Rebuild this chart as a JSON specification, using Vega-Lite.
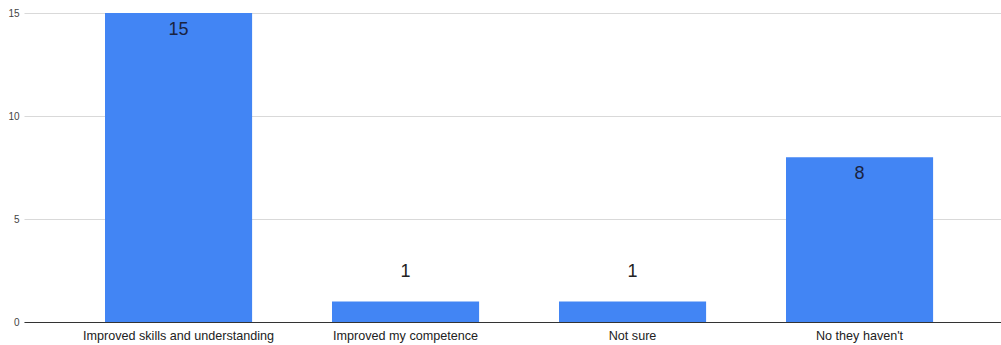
{
  "$schema": "https://vega.github.io/schema/vega-lite/v6.json",
  "autosize": {"type": "none"},
  "width": 977,
  "height": 309,
  "padding": {"left": 24, "top": 13, "right": 0, "bottom": 23},
  "background": "white",
  "config": {
    "view": {"stroke": null},
    "font": "Liberation Sans"
  },
  "data": {
    "values": [
      {"answer": "Improved skills and understanding", "count": 15},
      {"answer": "Improved my competence", "count": 1},
      {"answer": "Not sure", "count": 1},
      {"answer": "No they haven't", "count": 8}
    ]
  },
  "encoding": {
    "x": {
      "field": "answer",
      "type": "nominal",
      "sort": null,
      "scale": {"paddingInner": 0.352, "paddingOuter": 0.328, "align": 0.544},
      "axis": {
        "title": null,
        "labelAngle": 0,
        "labelFontSize": 12.6,
        "labelColor": "#222222",
        "labelPadding": 7,
        "labelLimit": 0,
        "ticks": false,
        "domainColor": "#333333",
        "domainWidth": 1,
        "grid": false
      }
    },
    "y": {
      "field": "count",
      "type": "quantitative",
      "scale": {"domain": [0, 15], "nice": false},
      "axis": {
        "title": null,
        "values": [0, 5, 10, 15],
        "labelFontSize": 10,
        "labelColor": "#444444",
        "labelPadding": 5,
        "ticks": false,
        "domain": false,
        "gridColor": "#d9d9d9",
        "gridWidth": 1
      }
    }
  },
  "layer": [
    {"mark": {"type": "bar", "color": "#4285F4"}},
    {
      "transform": [{"filter": "datum.count >= 5"}],
      "mark": {"type": "text", "baseline": "top", "dy": 8, "fontSize": 18, "color": "#1a2340"},
      "encoding": {"text": {"field": "count", "type": "quantitative"}}
    },
    {
      "transform": [{"filter": "datum.count < 5"}],
      "mark": {"type": "text", "baseline": "bottom", "dy": -20, "fontSize": 18, "color": "#222222"},
      "encoding": {"text": {"field": "count", "type": "quantitative"}}
    }
  ]
}
